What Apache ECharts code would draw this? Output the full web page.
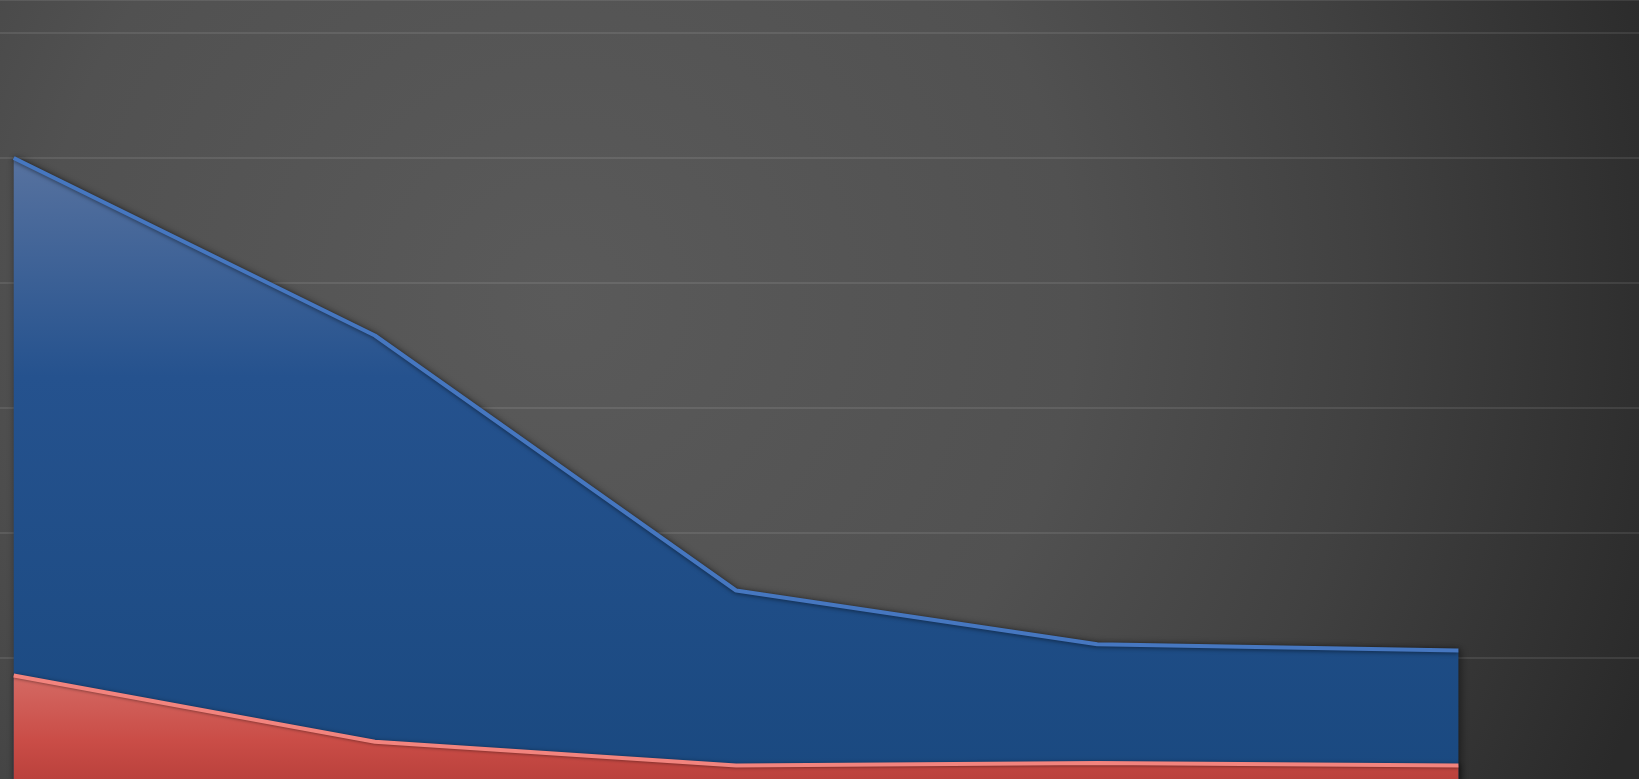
<!DOCTYPE html>
<html>
<head>
<meta charset="utf-8">
<script src="https://cdn.jsdelivr.net/npm/echarts@6/dist/echarts.min.js"></script>
<style>
html,body{margin:0;padding:0;background:#3a3a3a;overflow:hidden;width:1639px;height:779px;}
#chart{width:1639px;height:783px;}
</style>
</head>
<body>
<div id="chart"></div>
<script>
// Data
const categories = ['1', '2', '3', '4', '5'];
const blueValues = [5.0, 3.58, 1.54, 1.11, 1.06];
const redValues = [0.86, 0.33, 0.14, 0.16, 0.14];
const yTickStep = 1;

const chart = echarts.init(document.getElementById('chart'), null, {renderer: 'canvas'});

function toPairs(vals) { return vals.map((v, i) => [i, v]); }

const option = {
  animation: false,
  backgroundColor: {
    type: 'radial', x: 560, y: 300, r: 1150, global: true,
    colorStops: [
      {offset: 0, color: '#5a5a5a'},
      {offset: 0.45, color: '#515151'},
      {offset: 0.7, color: '#414141'},
      {offset: 1, color: '#2a2a2a'}
    ]
  },
  grid: {left: 0, right: 0, top: 0, bottom: 0, containLabel: false},
  xAxis: {
    type: 'value',
    min: -0.038,
    max: 4.5,
    axisLine: {show: false},
    axisTick: {show: false},
    axisLabel: {show: false},
    splitLine: {show: false}
  },
  yAxis: {
    type: 'value',
    min: 0,
    max: 6.264,
    interval: yTickStep,
    axisLine: {show: false},
    axisTick: {show: false},
    axisLabel: {show: false},
    splitLine: {show: true, lineStyle: {color: 'rgba(255,255,255,0.09)', width: 2}}
  },
  series: [
    {
      name: 'Blue',
      type: 'line',
      data: toPairs(blueValues),
      symbol: 'none',
      z: 2,
      lineStyle: {color: '#4677c0', width: 4, shadowColor: 'rgba(0,0,0,0.5)', shadowBlur: 4, shadowOffsetY: 1},
      areaStyle: {
        color: {
          type: 'linear', x: 0, y: 158, x2: 0, y2: 783, global: true,
          colorStops: [
            {offset: 0, color: '#57729f'},
            {offset: 0.35, color: '#25528e'},
            {offset: 1, color: '#1a4980'}
          ]
        },
        opacity: 1,
        shadowColor: 'rgba(0,0,0,0.5)', shadowBlur: 10, shadowOffsetX: 2
      }
    },
    {
      name: 'Red',
      type: 'line',
      data: toPairs(redValues),
      symbol: 'none',
      z: 3,
      lineStyle: {color: '#f2847e', width: 4, shadowColor: 'rgba(0,0,0,0.35)', shadowBlur: 3, shadowOffsetY: 1},
      areaStyle: {
        color: {
          type: 'linear', x: 0, y: 675, x2: 0, y2: 783, global: true,
          colorStops: [
            {offset: 0, color: '#d46a64'},
            {offset: 0.6, color: '#ca4d47'},
            {offset: 1, color: '#b9403b'}
          ]
        },
        opacity: 1,
        shadowColor: 'rgba(0,0,0,0.4)', shadowBlur: 6, shadowOffsetX: 2
      }
    }
  ]
};
chart.setOption(option);
</script>
</body>
</html>
